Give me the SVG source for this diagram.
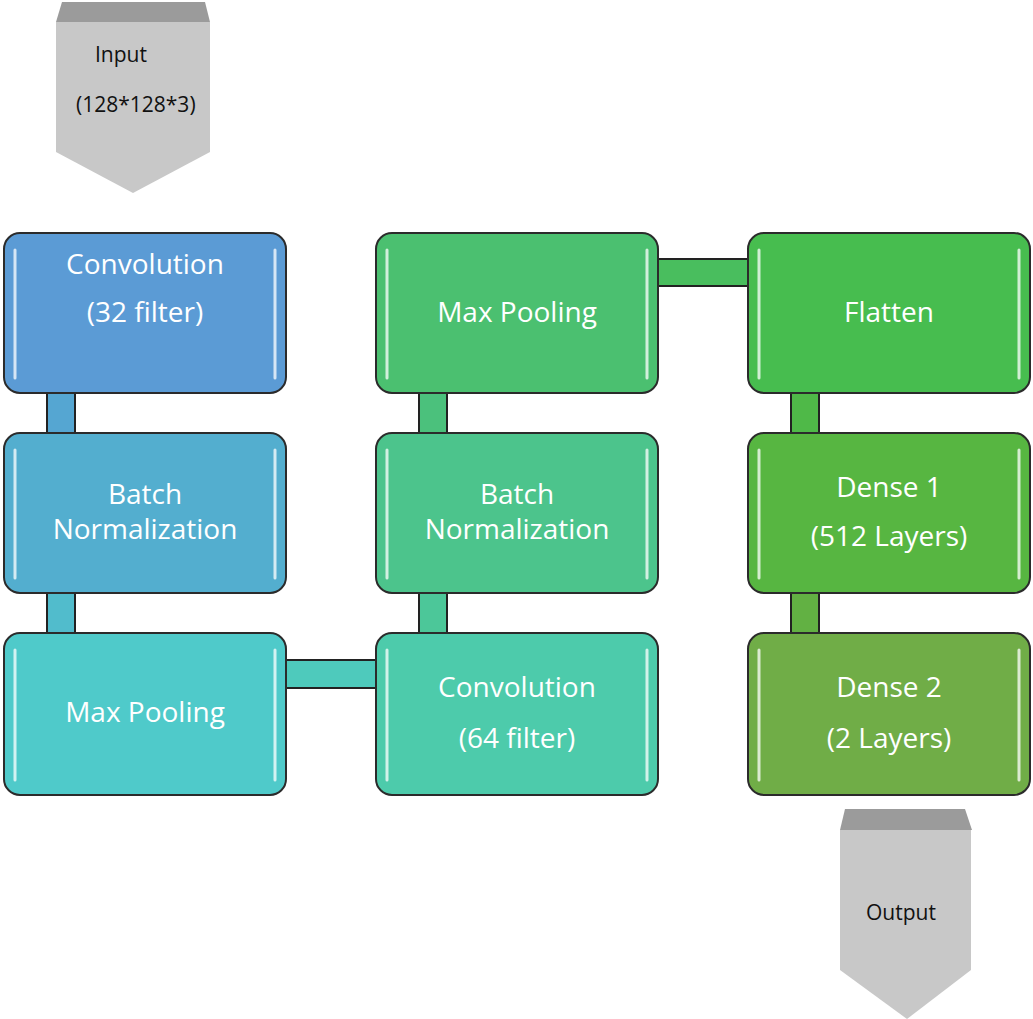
<svg xmlns="http://www.w3.org/2000/svg" width="1033" height="1019" viewBox="0 0 1033 1019">
<style>
.box{stroke:#2b2b2b;stroke-width:2}
.hl{stroke:#ffffff;stroke-width:3;stroke-linecap:round;opacity:0.75;fill:none}
.con{stroke:#222;stroke-width:2}
.t{font-family:"Open Sans","Liberation Sans",sans-serif;font-size:28px;fill:#ffffff;text-anchor:middle}
.g{font-family:"Open Sans","Liberation Sans",sans-serif;font-size:21px;fill:#111}
.arrowBody{fill:#c8c8c8}
.arrowTop{fill:#9b9b9b}
</style>
<rect width="1033" height="1019" fill="#ffffff"/>
<g id="connectors">
<rect class="con" x="47" y="392" width="28" height="42" fill="#55a6d2"/>
<rect class="con" x="47" y="592" width="28" height="42" fill="#51bccc"/>
<rect class="con" x="285" y="660" width="92" height="28" fill="#4ecabc"/>
<rect class="con" x="419" y="592" width="28" height="42" fill="#4cc799"/>
<rect class="con" x="419" y="392" width="28" height="42" fill="#4bc17c"/>
<rect class="con" x="657" y="259" width="92" height="27" fill="#49be5e"/>
<rect class="con" x="791" y="392" width="28" height="42" fill="#4fb948"/>
<rect class="con" x="791" y="592" width="28" height="42" fill="#62b143"/>
</g>
<g id="input">
<polygon class="arrowTop" points="62,2 205,2 210,22 56,22"/>
<polygon class="arrowBody" points="56,22 210,22 210,152 133,193 56,152"/>
<text class="g" x="95" y="62">Input</text>
<text class="g" x="76" y="112">(128*128*3)</text>
</g>
<g id="conv1">
<rect class="box" x="4" y="233" width="282" height="160" rx="16" fill="#5b9bd5"/>
<line class="hl" x1="15" y1="250" x2="15" y2="378"/><line class="hl" x1="275" y1="250" x2="275" y2="378"/>
<text class="t" x="145" y="274">Convolution</text>
<text class="t" x="145" y="322">(32 filter)</text>
</g>
<g id="bn1">
<rect class="box" x="4" y="433" width="282" height="160" rx="16" fill="#53aecf"/>
<line class="hl" x1="15" y1="450" x2="15" y2="578"/><line class="hl" x1="275" y1="450" x2="275" y2="578"/>
<text class="t" x="145" y="504">Batch</text>
<text class="t" x="145" y="539">Normalization</text>
</g>
<g id="pool1">
<rect class="box" x="4" y="633" width="282" height="162" rx="16" fill="#4fcaca"/>
<line class="hl" x1="15" y1="650" x2="15" y2="780"/><line class="hl" x1="275" y1="650" x2="275" y2="780"/>
<text class="t" x="145" y="722">Max Pooling</text>
</g>
<g id="conv2">
<rect class="box" x="376" y="633" width="282" height="162" rx="16" fill="#4dcbab"/>
<line class="hl" x1="387" y1="650" x2="387" y2="780"/><line class="hl" x1="647" y1="650" x2="647" y2="780"/>
<text class="t" x="517" y="697">Convolution</text>
<text class="t" x="517" y="748">(64 filter)</text>
</g>
<g id="bn2">
<rect class="box" x="376" y="433" width="282" height="160" rx="16" fill="#4cc48c"/>
<line class="hl" x1="387" y1="450" x2="387" y2="578"/><line class="hl" x1="647" y1="450" x2="647" y2="578"/>
<text class="t" x="517" y="504">Batch</text>
<text class="t" x="517" y="539">Normalization</text>
</g>
<g id="pool2">
<rect class="box" x="376" y="233" width="282" height="160" rx="16" fill="#4bc070"/>
<line class="hl" x1="387" y1="250" x2="387" y2="378"/><line class="hl" x1="647" y1="250" x2="647" y2="378"/>
<text class="t" x="517" y="322">Max Pooling</text>
</g>
<g id="flatten">
<rect class="box" x="748" y="233" width="282" height="160" rx="16" fill="#47bd4f"/>
<line class="hl" x1="759" y1="250" x2="759" y2="378"/><line class="hl" x1="1019" y1="250" x2="1019" y2="378"/>
<text class="t" x="889" y="322">Flatten</text>
</g>
<g id="dense1">
<rect class="box" x="748" y="433" width="282" height="160" rx="16" fill="#57b641"/>
<line class="hl" x1="759" y1="450" x2="759" y2="578"/><line class="hl" x1="1019" y1="450" x2="1019" y2="578"/>
<text class="t" x="889" y="497">Dense 1</text>
<text class="t" x="889" y="546">(512 Layers)</text>
</g>
<g id="dense2">
<rect class="box" x="748" y="633" width="282" height="162" rx="16" fill="#70ad47"/>
<line class="hl" x1="759" y1="650" x2="759" y2="780"/><line class="hl" x1="1019" y1="650" x2="1019" y2="780"/>
<text class="t" x="889" y="697">Dense 2</text>
<text class="t" x="889" y="748">(2 Layers)</text>
</g>
<g id="output">
<polygon class="arrowTop" points="845,809 965,809 972,830 840,830"/>
<polygon class="arrowBody" points="840,830 971,830 971,970 907,1019 840,970"/>
<text class="g" x="866" y="920">Output</text>
</g>
</svg>
